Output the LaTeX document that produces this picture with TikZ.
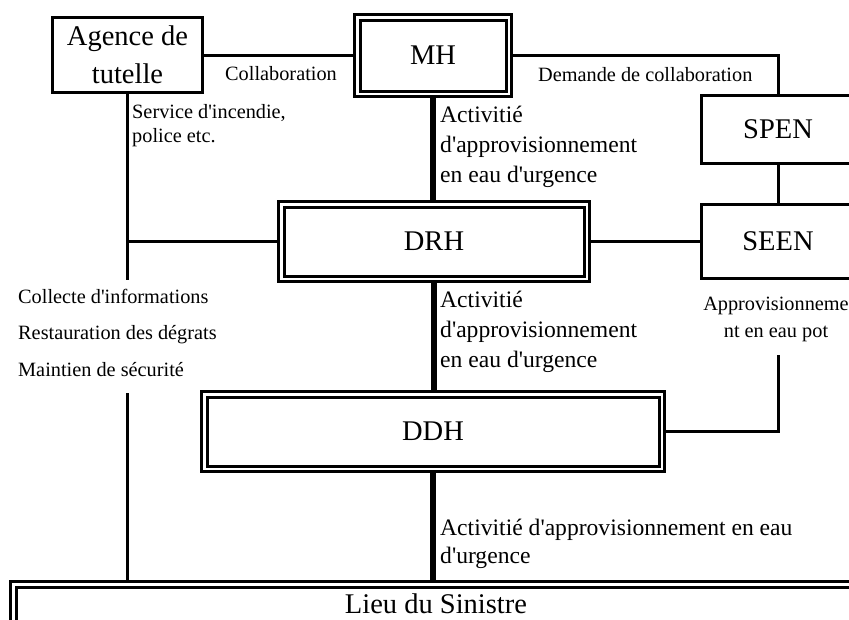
\documentclass[tikz,border=0pt]{standalone}
\usepackage{fontspec}
\setmainfont{Liberation Serif}[Ligatures=TeXOff]
\usetikzlibrary{positioning}
\tikzset{mybox/.style={draw,line width=3pt,outer sep=1.5pt,inner sep=0pt,align=center,font=\fontsize{28.5}{38}\selectfont}}
\tikzset{mydoublebox/.style={mybox,double,double distance=2.5pt,outer sep=4.25pt}}
\tikzset{myedges/.style={line width=3pt}}
\tikzset{mymain/.style={line width=5.5pt}}
\tikzset{mysmall/.style={inner sep=0pt,anchor=base west,align=left,font=\fontsize{20.3}{23.5}\selectfont}}
\tikzset{mylabel/.style={inner sep=0pt,anchor=base west,align=left,font=\fontsize{23.6}{30}\selectfont}}

\begin{document}
\begin{tikzpicture}[x=1pt,y=-1pt]
        \clip (0,0) rectangle (849,619);
        \node[mybox, minimum width=150pt, minimum height=75pt] (agence) at (127.5,55) {Agence de\\tutelle};
        \node[mydoublebox, minimum width=151.5pt, minimum height=76.5pt] (mh) at (433,55.5) {MH};
        \node[mybox, minimum width=153pt, minimum height=68pt] (spen) at (778,129.5) {SPEN};
        \node[mybox, minimum width=153pt, minimum height=74pt] (seen) at (778,241.5) {SEEN};
        \node[mydoublebox, minimum width=305.5pt, minimum height=74.5pt] (drh) at (434,241.5) {DRH};
        \node[mydoublebox, minimum width=457.5pt, minimum height=74.5pt] (ddh) at (433,431.5) {DDH};
        \node[mydoublebox, anchor=north west, minimum width=845.5pt, text height=22pt, text depth=40pt, inner ysep=6.75pt] (lieu) at (9,580) {Lieu du Sinistre};
        \coordinate (gaptop) at (127.5,280);
        \coordinate (gapbottom) at (127.5,393);
        \coordinate (agjoin) at (drh.west -| agence.south);
        \coordinate (seenbreak) at (778,355);
        % connectors
        \draw[myedges] (agence.east) -- (agence.east -| mh.west);
        \draw[myedges] (mh.east) -| (spen.north);
        \draw[myedges] (spen) -- (seen);
        \draw[myedges] (drh) -- (seen);
        \draw[myedges] (agence.south) -- (gaptop);
        \draw[myedges] (drh.west) -- (agjoin);
        \draw[myedges] (gapbottom) -- (gapbottom |- lieu.north);
        \draw[myedges] (seenbreak) |- (ddh.east);
        \draw[mymain] (mh.south) -- (mh.south |- drh.north);
        \draw[mymain] (drh.south) -- (drh.south |- ddh.north);
        \draw[mymain] (ddh.south) -- (ddh.south |- lieu.north);
        % labels (base = last line)
        \node[mysmall] (collab) at (225,80) {Collaboration};
        \node[mysmall] (demande) at (538,81) {Demande de collaboration};
        \node[mysmall] (service) at (132,142) {Service d'incendie,\\police etc.};
        \node[mysmall, font=\fontsize{20.3}{36.5}\selectfont] (collecte) at (18,376) {Collecte d'informations\\Restauration des dégrats\\Maintien de sécurité};
        \node[mysmall, anchor=base, align=center, font=\fontsize{20.3}{27}\selectfont] (approv) at (776,337) {Approvisionneme\\nt en eau pot};
        \node[mylabel] (act1) at (440,182) {Activitié\\d'approvisionnement\\en eau d'urgence};
        \node[mylabel] (act2) at (440,367) {Activitié\\d'approvisionnement\\en eau d'urgence};
        \node[mylabel, font=\fontsize{23.6}{28}\selectfont] (act3) at (440,563) {Activitié d'approvisionnement en eau\\d'urgence};
    \end{tikzpicture}
\end{document}
